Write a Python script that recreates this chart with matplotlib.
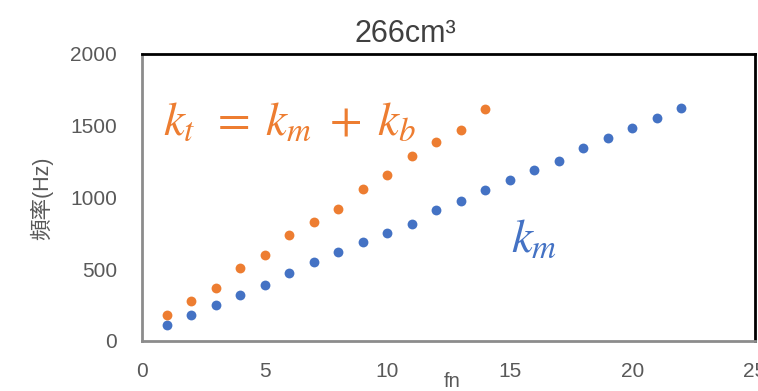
import matplotlib
matplotlib.use("Agg")
import matplotlib.pyplot as plt

plt.rcParams['font.family'] = ['Liberation Sans', 'Noto Sans CJK TC', 'DejaVu Sans']
plt.rcParams['mathtext.fontset'] = 'stix'

# data
fn_m = list(range(1, 23))
k_m = [112, 182, 254, 324, 392, 473, 548, 618, 688, 753, 818, 911,
       979, 1053, 1121, 1189, 1256, 1345, 1413, 1485, 1555, 1622]
fn_t = list(range(1, 15))
k_t = [182, 280, 366, 506, 599, 739, 832, 921, 1061, 1154, 1289, 1387, 1473, 1615]

x_ticks = [0, 5, 10, 15, 20, 25]
y_ticks = [0, 500, 1000, 1500, 2000]

blue = "#4472C4"
orange = "#ED7D31"
grey = "#595959"

W, H = 758, 391
fig = plt.figure(figsize=(W / 100, H / 100), dpi=100)
ax = fig.add_axes([142 / W, 50 / H, 613 / W, 287 / H])

ax.scatter(fn_m, k_m, s=50, color=blue, zorder=3, linewidths=0)
ax.scatter(fn_t, k_t, s=50, color=orange, zorder=3, linewidths=0)

ax.set_xlim(0, 25)
ax.set_ylim(0, 2000)
ax.set_xticks(x_ticks)
ax.set_yticks(y_ticks)
ax.tick_params(length=0, labelsize=15, labelcolor=grey)
ax.tick_params(axis='x', pad=15)
ax.tick_params(axis='y', pad=18)

for side in ["left", "bottom"]:
    ax.spines[side].set_color("#8c8c8c")
    ax.spines[side].set_linewidth(2)
for side in ["top", "right"]:
    ax.spines[side].set_color("black")
    ax.spines[side].set_linewidth(2)

fig.text(405 / W, 1 - 34 / H, "266cm³", fontsize=22, color="#404040",
         ha="center", va="center")
fig.text(42 / W, 1 - 198 / H, "頻率(Hz)", fontsize=15.5, color=grey,
         rotation=90, ha="center", va="center")
fig.text(452 / W, 1 - 372 / H, "fn", fontsize=14.5, color=grey,
         ha="center", va="top")

ax.text(0.85, 1520, r"$k_t\;\,=\;k_m\;+\;k_b$", color=orange, fontsize=34,
        ha="left", va="center")
ax.text(15.05, 705, r"$k_m$", color=blue, fontsize=34, ha="left", va="center")

fig.savefig("out.png", dpi=100)
